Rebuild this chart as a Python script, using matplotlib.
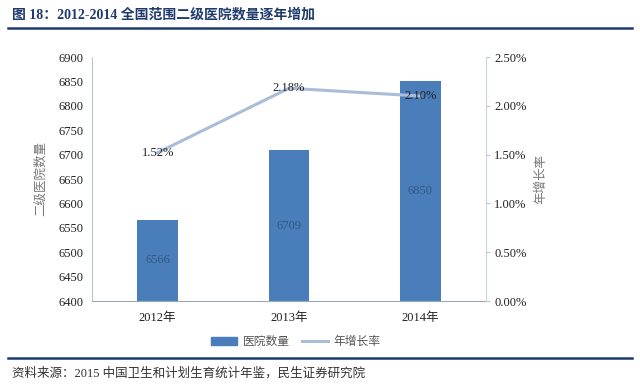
import numpy as np
import matplotlib
matplotlib.use("Agg")
import matplotlib.pyplot as plt
from matplotlib.ticker import FuncFormatter
from matplotlib.lines import Line2D
from matplotlib.patches import Patch

plt.rcParams['font.family'] = ['Liberation Serif', 'Noto Sans CJK SC']

years = ['2012年', '2013年', '2014年']
hospitals = [6566, 6709, 6850]
growth = [1.52, 2.18, 2.10]  # percent

BAR_COLOR = '#4a7ebb'
LINE_COLOR = '#a9bcd8'
TITLE_COLOR = '#1f3a6e'

fig = plt.figure(figsize=(6.4, 3.85), dpi=100)
ax = fig.add_axes([92 / 640, 1 - 301 / 385, (486 - 92) / 640, (301 - 57) / 385])

x = np.arange(len(years))
ax.bar(x, hospitals, width=0.31, color=BAR_COLOR, zorder=2)
ax.set_xlim(-0.5, 2.5)
ax.set_ylim(6400, 6900)
ax.set_yticks(np.arange(6400, 6901, 50))
ax.set_xticks(x)
ax.set_xticklabels(years, fontsize=9, color='#222222')
ax.tick_params(axis='y', labelsize=9, colors='#222222', length=0, pad=6)
ax.tick_params(axis='x', length=0, pad=8)
for s in ['top', 'right']:
    ax.spines[s].set_visible(False)
ax.spines['left'].set_color('#b8c8d8')
ax.spines['bottom'].set_color('#9aa8b8')
ax.set_ylabel('二级医院数量', fontsize=9, color='#777777', labelpad=8)

# value labels in the middle of each bar
for xi, v in zip(x, hospitals):
    ax.text(xi, (6400 + v) / 2, str(v), ha='center', va='center', fontsize=9,
            color='#34577f', zorder=4)

ax2 = ax.twinx()
ax2.plot(x, growth, color=LINE_COLOR, lw=2.2, zorder=3)
ax2.set_ylim(0, 2.5)
ax2.set_yticks(np.arange(0, 2.51, 0.5))
ax2.yaxis.set_major_formatter(FuncFormatter(lambda v, p: f'{v:.2f}%'))
ax2.tick_params(axis='y', labelsize=9, colors='#222222', length=3, pad=3)
ax2.tick_params(axis='y', color='#b8c8d8')
for s in ['top', 'left', 'bottom']:
    ax2.spines[s].set_visible(False)
ax2.spines['right'].set_color('#c8d4e0')
ax2.set_ylabel('年增长率', fontsize=9, color='#777777', rotation=90, labelpad=6)

for xi, g in zip(x, growth):
    ax2.text(xi, g, f'{g:.2f}%', ha='center', va='center', fontsize=9, color='#222222', zorder=5)

handles = [Patch(color=BAR_COLOR), Line2D([0], [0], color=LINE_COLOR, lw=2.2)]
fig.legend(handles, ['医院数量', '年增长率'], loc='center', bbox_to_anchor=(296 / 640, 1 - 342 / 385),
           ncol=2, frameon=False, fontsize=8.5, handlelength=2.2, handletextpad=0.5,
           columnspacing=1.0, labelcolor='#555555')

fig.text(12 / 640, 1 - 14 / 385, '图 18：2012-2014 全国范围二级医院数量逐年增加', fontsize=10,
         fontweight='bold', color=TITLE_COLOR, va='center', ha='left')
fig.add_artist(Line2D([8 / 640, 632 / 640], [1 - 28 / 385, 1 - 28 / 385], color=TITLE_COLOR, lw=1.8))
fig.add_artist(Line2D([8 / 640, 632 / 640], [1 - 358 / 385, 1 - 358 / 385], color=TITLE_COLOR, lw=1.8))
fig.text(12 / 640, 1 - 373 / 385, '资料来源：2015 中国卫生和计划生育统计年鉴，民生证券研究院', fontsize=9,
         color='#333333', va='center', ha='left')

fig.savefig('out.png', dpi=100)
